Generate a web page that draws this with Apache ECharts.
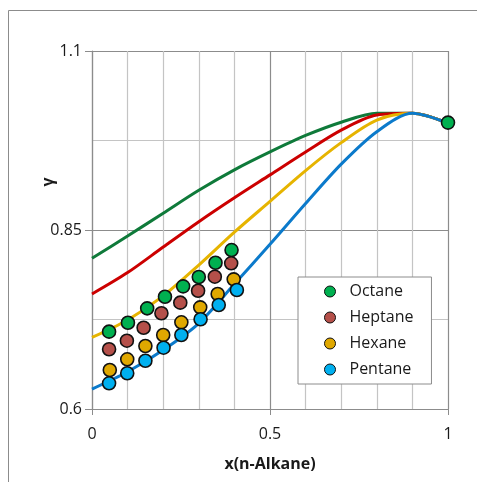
<!DOCTYPE html>
<html>
<head>
<meta charset="utf-8">
<script src="https://cdn.jsdelivr.net/npm/echarts@6/dist/echarts.min.js"></script>
<style>
  html, body { margin: 0; padding: 0; background: #ffffff; }
  #chart { width: 477px; height: 482px; }
</style>
</head>
<body>
<div id="chart"></div>
<script>
// Model curves: activity coefficient vs. mole fraction of n-alkane
const curveX = [0, 0.1, 0.2, 0.3, 0.4, 0.5, 0.6, 0.7, 0.8, 0.9, 1.0];
const octaneCurve  = [0.8105, 0.8416, 0.8735, 0.9055, 0.934, 0.959, 0.982, 1.0005, 1.013, 1.013, 0.999];
const heptaneCurve = [0.7606, 0.7905, 0.8262, 0.8616, 0.895, 0.927, 0.959, 0.9895, 1.0106, 1.013, 0.999];
const hexaneCurve  = [0.6999, 0.7243, 0.758, 0.801, 0.847, 0.890, 0.933, 0.972, 1.0036, 1.013, 0.999];
const pentaneCurve = [0.6279, 0.6521, 0.6824, 0.7197, 0.7745, 0.830, 0.887, 0.942, 0.9873, 1.013, 0.999];

// Measured points
const octaneX  = [0.048, 0.101, 0.155, 0.205, 0.256, 0.300, 0.347, 0.392, 1.0];
const octaneY  = [0.708, 0.7205, 0.7406, 0.7568, 0.7713, 0.7844, 0.8043, 0.822, 1.0];
const heptaneX = [0.048, 0.098, 0.145, 0.195, 0.248, 0.298, 0.345, 0.391];
const heptaneY = [0.6834, 0.6954, 0.7135, 0.7337, 0.7485, 0.7652, 0.7848, 0.8035];
const hexaneX  = [0.050, 0.099, 0.150, 0.200, 0.251, 0.304, 0.353, 0.398];
const hexaneY  = [0.6545, 0.6694, 0.688, 0.7034, 0.7211, 0.742, 0.7606, 0.7811];
const pentaneX = [0.048, 0.099, 0.150, 0.201, 0.251, 0.305, 0.356, 0.407];
const pentaneY = [0.6359, 0.6499, 0.6674, 0.6856, 0.7034, 0.7253, 0.7453, 0.7662];

const seriesNames = ['Octane', 'Heptane', 'Hexane', 'Pentane'];
const xTicks = [0, 0.5, 1];
const yTicks = [0.6, 0.85, 1.1];
const yTitle = 'γ';

const FONT = '"Open Sans", "Noto Sans", sans-serif';

function pairs(xs, ys) { return xs.map((x, i) => [x, ys[i]]); }

function curveSeries(name, ys, color) {
  return {
    name: name, type: 'line', data: pairs(curveX, ys),
    smooth: 0.3, symbol: 'none', z: 2,
    lineStyle: { color: color, width: 3 },
    emphasis: { disabled: true }
  };
}
function pointSeries(name, xs, ys, color) {
  return {
    name: name, type: 'scatter', data: pairs(xs, ys),
    symbol: 'circle', symbolSize: 13, z: 5,
    itemStyle: { color: color, borderColor: '#111', borderWidth: 1.6, opacity: 1 },
    emphasis: { disabled: true }
  };
}

const chart = echarts.init(document.getElementById('chart'), null, { renderer: 'canvas' });
chart.setOption({
  animation: false,
  backgroundColor: '#ffffff',
  graphic: [
    {
      type: 'rect', z: -10, silent: true,
      shape: { x: 8.5, y: 10.5, width: 480, height: 480 },
      style: { fill: 'none', stroke: '#8c8c8c', lineWidth: 1 }
    },
    {
      // y-axis title, placed above the axis middle
      type: 'text', silent: true, x: 48, y: 182, rotation: Math.PI / 2,
      style: {
        text: yTitle, fontFamily: FONT, fontSize: 16, fontWeight: 'bold',
        fill: '#1a1a1a', align: 'center', verticalAlign: 'middle'
      }
    }
  ],
  grid: { left: 92, top: 51, right: 29, bottom: 73, containLabel: false },
  legend: {
    data: seriesNames,
    orient: 'vertical',
    left: 298, top: 277,
    backgroundColor: '#ffffff',
    borderColor: '#8c8c8c', borderWidth: 1,
    padding: [6, 18, 6, 26],
    itemGap: 9,
    itemWidth: 11, itemHeight: 11,
    icon: 'circle',
    itemStyle: { borderColor: '#111', borderWidth: 1 },
    textStyle: { fontFamily: FONT, fontSize: 16, color: '#1a1a1a', lineHeight: 17, padding: [0, 0, 0, 9] }
  },
  xAxis: {
    type: 'value', min: 0, max: 1, interval: 0.5,
    name: 'x(n-Alkane)', nameLocation: 'middle', nameGap: 47, nameMoveOverlap: false,
    nameTextStyle: { fontFamily: FONT, fontSize: 16, fontWeight: 'bold', color: '#1a1a1a' },
    axisLine: { show: true, lineStyle: { color: '#8c8c8c', width: 1.2 } },
    axisTick: { show: true, inside: false, length: 6, lineStyle: { color: '#8c8c8c' } },
    axisLabel: {
      margin: 17, fontFamily: FONT, fontSize: 16, color: '#1a1a1a',
      formatter: v => (xTicks.some(t => Math.abs(t - v) < 1e-9) ? String(+v.toFixed(2)) : '')
    },
    splitLine: { show: true, lineStyle: { color: '#8c8c8c', width: 1.2 } },
    minorTick: { show: true, splitNumber: 5, length: 0 },
    minorSplitLine: { show: true, lineStyle: { color: '#c4c4c4', width: 1.2 } }
  },
  yAxis: {
    type: 'value', min: 0.6, max: 1.1, interval: 0.25,
    axisLine: { show: true, lineStyle: { color: '#8c8c8c', width: 1.2 } },
    axisTick: { show: true, inside: false, length: 7, lineStyle: { color: '#8c8c8c' } },
    axisLabel: {
      margin: 10, fontFamily: FONT, fontSize: 16, color: '#1a1a1a',
      formatter: v => (yTicks.some(t => Math.abs(t - v) < 1e-9) ? String(+v.toFixed(2)) : '')
    },
    splitLine: { show: true, lineStyle: { color: '#8c8c8c', width: 1.2 } },
    minorTick: { show: true, splitNumber: 2, length: 0 },
    minorSplitLine: { show: true, lineStyle: { color: '#c4c4c4', width: 1.2 } }
  },
  series: [
    curveSeries('Octane model', octaneCurve, '#0f7a3a'),
    curveSeries('Heptane model', heptaneCurve, '#cc0000'),
    curveSeries('Hexane model', hexaneCurve, '#e6b400'),
    curveSeries('Pentane model', pentaneCurve, '#0b7acb'),
    pointSeries('Octane', octaneX, octaneY, '#00b050'),
    pointSeries('Heptane', heptaneX, heptaneY, '#b5504a'),
    pointSeries('Hexane', hexaneX, hexaneY, '#e0a800'),
    pointSeries('Pentane', pentaneX, pentaneY, '#00b0f0')
  ]
});
</script>
</body>
</html>
